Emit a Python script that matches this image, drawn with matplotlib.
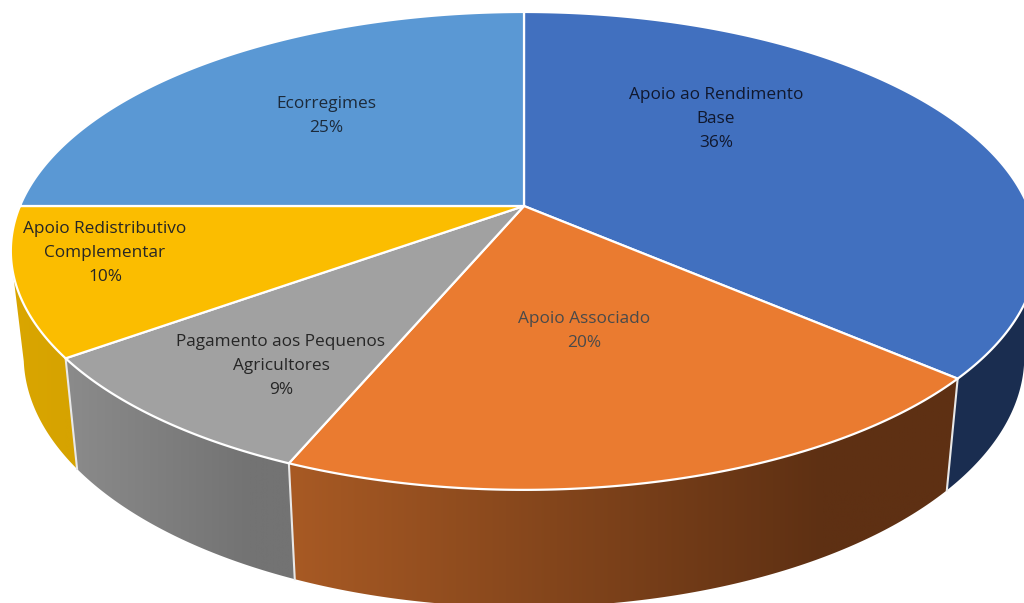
import numpy as np
import matplotlib
matplotlib.use("Agg")
import matplotlib.pyplot as plt
from matplotlib.patches import Polygon
from matplotlib.colors import LinearSegmentedColormap

labels = ["Apoio ao Rendimento\nBase", "Apoio Associado", "Pagamento aos Pequenos\nAgricultores",
          "Apoio Redistributivo\nComplementar", "Ecorregimes"]
shares = [36.4, 19.9, 8.7, 10, 25]
top_colors = ["#4170bf", "#ea7b30", "#a1a1a1", "#fbbd00", "#5a98d4"]
side_left = ["#1a2d50", "#a85a24", "#8b8b8b", "#daa600", "#5b9bd5"]
side_right = ["#1a2d50", "#5e3013", "#737373", "#d6a300", "#5b9bd5"]
label_pos = [(716, 119), (584, 331), (281, 366), (105, 253), (326, 116)]
label_colors = ["#10182e", "#4a4a4a", "#262626", "#262626", "#1c2a3a"]

CX, CY = 524, 206
R, S, K = 504, 230.5, 0.188
WALL_FROM, WALL_TO = np.radians(102), np.radians(258)


def top_point(theta):
    # pie plane seen in perspective, theta clockwise from 12 o'clock
    u, v = np.sin(theta), np.cos(theta)
    w = 1 + K * v
    return CX + R * u / w, CY - S * v / w


def bottom_point(theta):
    x, y = top_point(theta)
    return CX + 0.975 * (x - CX), CY + 1.05 * (y - CY) + 103


def gradient_side(ax, pts, c0, c1):
    xs = pts[:, 0]
    cmap = LinearSegmentedColormap.from_list("side", [(0, c0), (0.8, c1), (1, c1)])
    im = ax.imshow(np.linspace(0, 1, 256).reshape(1, -1), cmap=cmap, aspect="auto",
                   extent=(xs.min(), xs.max(), pts[:, 1].max(), pts[:, 1].min()), zorder=1)
    im.set_clip_path(Polygon(pts, transform=ax.transData))


fig = plt.figure(figsize=(10.24, 6.03), dpi=100)
ax = fig.add_axes([0, 0, 1, 1])
ax.axis("off")

edges = np.radians(np.cumsum([0] + shares) * 3.6)

# side walls, only the part that faces the viewer
for i in range(4):
    a, b = max(edges[i], WALL_FROM), min(edges[i + 1], WALL_TO)
    t = np.linspace(a, b, 120)
    tx, ty = top_point(t)
    bx, by = bottom_point(t[::-1])
    pts = np.column_stack([np.r_[tx, bx], np.r_[ty, by]])
    if i == 0:
        ax.add_patch(Polygon(pts, fc=side_left[i], ec="none", zorder=1))
    else:
        gradient_side(ax, pts, side_left[i], side_right[i])

# wedge tops
for i in range(5):
    t = np.linspace(edges[i], edges[i + 1], 200)
    tx, ty = top_point(t)
    pts = np.column_stack([np.r_[CX, tx], np.r_[CY, ty]])
    ax.add_patch(Polygon(pts, fc=top_colors[i], ec="white", lw=1.6, joinstyle="round", zorder=3))

# white seams between the walls
for e in edges[1:4]:
    x0, y0 = top_point(e)
    x1, y1 = bottom_point(e)
    ax.plot([x0, x1], [y0, y1], color="#e8e8e8", lw=1.5, zorder=2)

for name, share, (x, y), c in zip(labels, shares, label_pos, label_colors):
    ax.text(x, y, f"{name}\n{share:.0f}%", ha="center", va="center", color=c,
            family="Open Sans", fontsize=12.4, linespacing=1.68, zorder=4)

ax.set_xlim(0, 1024)
ax.set_ylim(603, 0)
fig.savefig("out.png", dpi=100, facecolor="white")
